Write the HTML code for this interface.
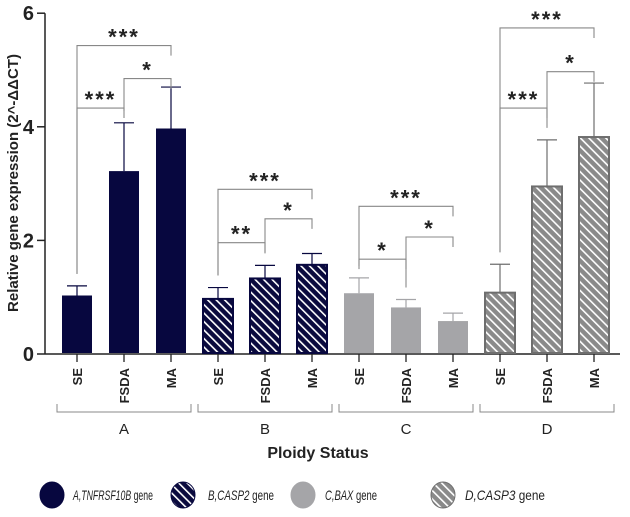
<!DOCTYPE html>
<html><head><meta charset="utf-8"><style>
body{margin:0;background:#fff}
svg text{font-family:"Liberation Sans",Arial,sans-serif}
</style></head><body>
<svg id="chart" width="630" height="512" xmlns="http://www.w3.org/2000/svg">
<defs>
<pattern id="hatchB" patternUnits="userSpaceOnUse" width="6" height="6" patternTransform="rotate(-45)">
<rect width="6" height="6" fill="#0a0a3e"/><rect x="0" y="0" width="1.6" height="6" fill="#fff"/></pattern>
<pattern id="hatchD" patternUnits="userSpaceOnUse" width="6" height="6" patternTransform="rotate(-45)">
<rect width="6" height="6" fill="#8a8a8a"/><rect x="0" y="0" width="1.6" height="6" fill="#fff"/></pattern>
</defs>
<g id="plot"></g>
</svg>
<script>
const groups=["A","B","C","D"];
const conds=["SE","FSDA","MA"];
const means=[1.03,3.22,3.97, 0.97,1.33,1.57, 1.07,0.82,0.58, 1.08,2.95,3.82];
const errs=[0.17,0.85,0.73, 0.2,0.23,0.2, 0.27,0.14,0.14, 0.5,0.82,0.95];
const yTicks=[0,2,4,6];
const brackets=[[0,1,4.33,"***"],[1,2,4.85,"*"],[0,2,5.43,"***"],
[3,4,1.96,"**"],[4,5,2.38,"*"],[3,5,2.9,"***"],
[6,7,1.67,"*"],[7,8,2.06,"*"],[6,8,2.6,"***"],
[9,10,4.33,"***"],[10,11,4.97,"*"],[9,11,5.74,"***"]];
const fills=["#07073f","url(#hatchB)","#a5a5a8","url(#hatchD)"];
const strokes=["#07073f","#07073f","#a5a5a8","#6e6e6e"];
const X0=45,Y0=354,PU=56.8;
const y=v=>Y0-v*PU;
const x=i=>77+i*47;
const g=document.getElementById('plot');
const NS="http://www.w3.org/2000/svg";
function mk(t,a,txt){const e=document.createElementNS(NS,t);for(const k in a)e.setAttribute(k,a[k]);if(txt!=null)e.textContent=txt;g.appendChild(e);return e;}
let e=mk('line',{x1:X0,y1:y(6),x2:X0,y2:Y0,stroke:'#222','stroke-width':1.5});

e=mk('line',{x1:X0,y1:Y0,x2:620,y2:Y0,stroke:'#222','stroke-width':1.5});

yTicks.forEach(t=>{
 e=mk('line',{x1:X0-8,y1:y(t),x2:X0,y2:y(t),stroke:'#222','stroke-width':1.5});
 
 e=mk('text',{x:X0-11,y:y(t)+7,'text-anchor':'end','font-size':20,'font-weight':'bold',fill:'#222'},t);
 
});
e=mk('text',{x:0,y:0,transform:'translate(18,183) rotate(-90)','text-anchor':'middle','font-size':15,'font-weight':'bold',fill:'#222'},'Relative gene expression (2^-ΔΔCT)');

means.forEach((m,i)=>{
 const gi=Math.floor(i/3),cx=x(i);
 e=mk('line',{x1:cx,y1:y(m),x2:cx,y2:y(m+errs[i]),stroke:strokes[gi],'stroke-width':1.2});
 
 e=mk('line',{x1:cx-10,y1:y(m+errs[i]),x2:cx+10,y2:y(m+errs[i]),stroke:strokes[gi],'stroke-width':1.2});
 
 e=mk('rect',{x:cx-15,y:y(m),width:30,height:Y0-y(m)-1,fill:fills[gi],stroke:strokes[gi],'stroke-width':(gi%2?2:0)});
 
 e=mk('line',{x1:cx,y1:Y0,x2:cx,y2:Y0+8,stroke:'#222','stroke-width':1.3});
 
 e=mk('text',{x:0,y:0,transform:`translate(${cx+5},${Y0+14}) rotate(-90)`,'text-anchor':'end','font-size':13,'font-weight':'bold',fill:'#222'},conds[i%3]);
 
});
brackets.forEach(b=>{
 const [a,c,lv,l]=b,ya=y(lv);
 const la=y(means[a]+errs[a])-12;
 e=mk('path',{d:`M${x(a)},${Math.max(la,ya+10)} V${ya} H${x(c)} V${ya+10}`,fill:'none',stroke:'#888','stroke-width':1.1});
 
 e=mk('text',{x:(x(a)+x(c))/2,y:ya-1,'text-anchor':'middle','font-size':22,'font-weight':'bold','letter-spacing':2,fill:'#222'},l);
 
});
groups.forEach((gname,gi)=>{
 const x1=x(gi*3)-20,x2=x(gi*3+2)+20;
 e=mk('path',{d:`M${x1},404 V412 H${x2} V404`,fill:'none',stroke:'#888','stroke-width':1});
 
 e=mk('text',{x:(x1+x2)/2,y:434,'text-anchor':'middle','font-size':15,fill:'#222'},gname);
 
});
e=mk('text',{x:318,y:458,'text-anchor':'middle','font-size':16,'font-weight':'bold',fill:'#222'},'Ploidy Status');

const legLabels=[["A,","TNFRSF10B"],["B,","CASP2"],["C,","BAX"],["D,","CASP3"]];
const legX=[52,183,303,443];
const legTX=[73,208,325,465];
const legW=[80,66,52,80];
legLabels.forEach((L,i)=>{
 e=mk('ellipse',{cx:legX[i],cy:495,rx:12,ry:13,fill:fills[i],stroke:strokes[i],'stroke-width':1});
 
 e=mk('text',{x:legTX[i],y:500,'font-size':14,fill:'#222',textLength:legW[i],lengthAdjust:'spacingAndGlyphs'});
 
 e.innerHTML=`<tspan font-style="italic">${L[0]}${L[1]}</tspan> gene`;
});
</script>
</body></html>
